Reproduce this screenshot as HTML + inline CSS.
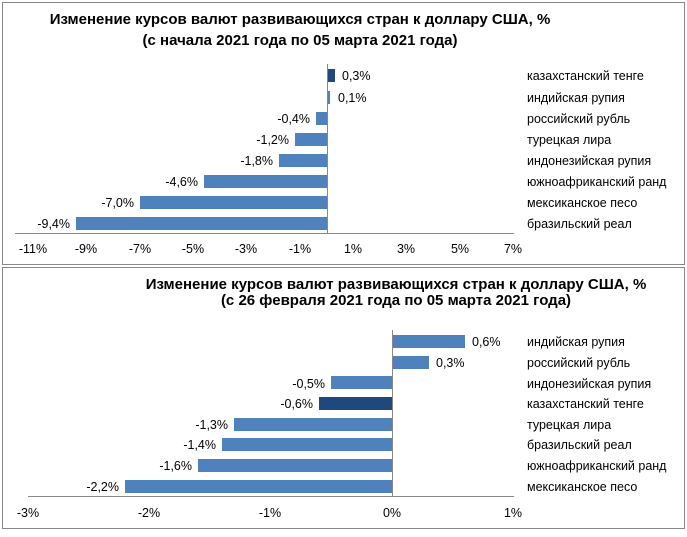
<!DOCTYPE html>
<html><head><meta charset="utf-8"><style>
body{margin:0;background:#fff}
svg text{font-family:"Liberation Sans",sans-serif;fill:#000}
.t{font-weight:bold;font-size:15px}
.l{font-size:12.5px}
</style></head><body>
<svg width="687" height="532" xmlns="http://www.w3.org/2000/svg">
<rect x="2.5" y="2.5" width="682" height="262" fill="none" stroke="#888"/>
<rect x="2.5" y="267.5" width="682" height="261" fill="none" stroke="#888"/>
<text class="t" x="300" y="24" text-anchor="middle">Изменение курсов валют развивающихся стран к доллару США, %</text>
<text class="t" x="300" y="45" text-anchor="middle">(с начала 2021 года по 05 марта 2021 года)</text>
<g fill="#4f81bd">
<rect x="327" y="69" width="8" height="13" fill="#1f497d"/>
<rect x="327" y="91" width="3" height="13"/>
<rect x="316" y="112" width="11" height="13"/>
<rect x="295" y="133" width="32" height="13"/>
<rect x="279" y="154" width="48" height="13"/>
<rect x="204" y="175" width="123" height="13"/>
<rect x="140" y="196" width="187" height="13"/>
<rect x="76" y="217" width="251" height="13"/>
</g>
<line x1="327.5" y1="64" x2="327.5" y2="233" stroke="#888"/>
<line x1="15" y1="233.5" x2="514" y2="233.5" stroke="#888"/>
<g class="l">
<text x="342" y="80">0,3%</text><text x="338" y="102">0,1%</text>
<text x="310" y="123" text-anchor="end">-0,4%</text><text x="289" y="144" text-anchor="end">-1,2%</text>
<text x="273" y="165" text-anchor="end">-1,8%</text><text x="198" y="186" text-anchor="end">-4,6%</text>
<text x="134" y="207" text-anchor="end">-7,0%</text><text x="70" y="228" text-anchor="end">-9,4%</text>
<text x="527" y="80">казахстанский тенге</text><text x="527" y="102">индийская рупия</text>
<text x="527" y="123">российский рубль</text><text x="527" y="144">турецкая лира</text>
<text x="527" y="165">индонезийская рупия</text><text x="527" y="186">южноафриканский ранд</text>
<text x="527" y="207">мексиканское песо</text><text x="527" y="228">бразильский реал</text>
</g>
<g class="l" text-anchor="middle">
<text x="33" y="253">-11%</text><text x="86" y="253">-9%</text><text x="140" y="253">-7%</text><text x="193" y="253">-5%</text><text x="246" y="253">-3%</text><text x="300" y="253">-1%</text><text x="353" y="253">1%</text><text x="406" y="253">3%</text><text x="460" y="253">5%</text><text x="513" y="253">7%</text>
</g>
<text class="t" x="396" y="289" text-anchor="middle">Изменение курсов валют развивающихся стран к доллару США, %</text>
<text class="t" x="396" y="305" text-anchor="middle">(с 26 февраля 2021 года по 05 марта 2021 года)</text>
<g fill="#4f81bd">
<rect x="392" y="335" width="73" height="13"/>
<rect x="392" y="356" width="37" height="13"/>
<rect x="331" y="376" width="61" height="13"/>
<rect x="319" y="397" width="73" height="13" fill="#1f497d"/>
<rect x="234" y="418" width="158" height="13"/>
<rect x="222" y="438" width="170" height="13"/>
<rect x="198" y="459" width="194" height="13"/>
<rect x="125" y="480" width="267" height="13"/>
</g>
<line x1="392.5" y1="330" x2="392.5" y2="496" stroke="#888"/>
<line x1="28" y1="496.5" x2="514" y2="496.5" stroke="#888"/>
<g class="l">
<text x="472" y="346">0,6%</text><text x="436" y="367">0,3%</text>
<text x="325" y="388" text-anchor="end">-0,5%</text><text x="313" y="408" text-anchor="end">-0,6%</text>
<text x="228" y="429" text-anchor="end">-1,3%</text><text x="216" y="449" text-anchor="end">-1,4%</text>
<text x="192" y="470" text-anchor="end">-1,6%</text><text x="119" y="491" text-anchor="end">-2,2%</text>
<text x="527" y="346">индийская рупия</text><text x="527" y="367">российский рубль</text>
<text x="527" y="388">индонезийская рупия</text><text x="527" y="408">казахстанский тенге</text>
<text x="527" y="429">турецкая лира</text><text x="527" y="449">бразильский реал</text>
<text x="527" y="470">южноафриканский ранд</text><text x="527" y="491">мексиканское песо</text>
</g>
<g class="l" text-anchor="middle">
<text x="28" y="517">-3%</text><text x="149" y="517">-2%</text><text x="270" y="517">-1%</text><text x="392" y="517">0%</text><text x="513" y="517">1%</text>
</g>
</svg>
</body></html>
